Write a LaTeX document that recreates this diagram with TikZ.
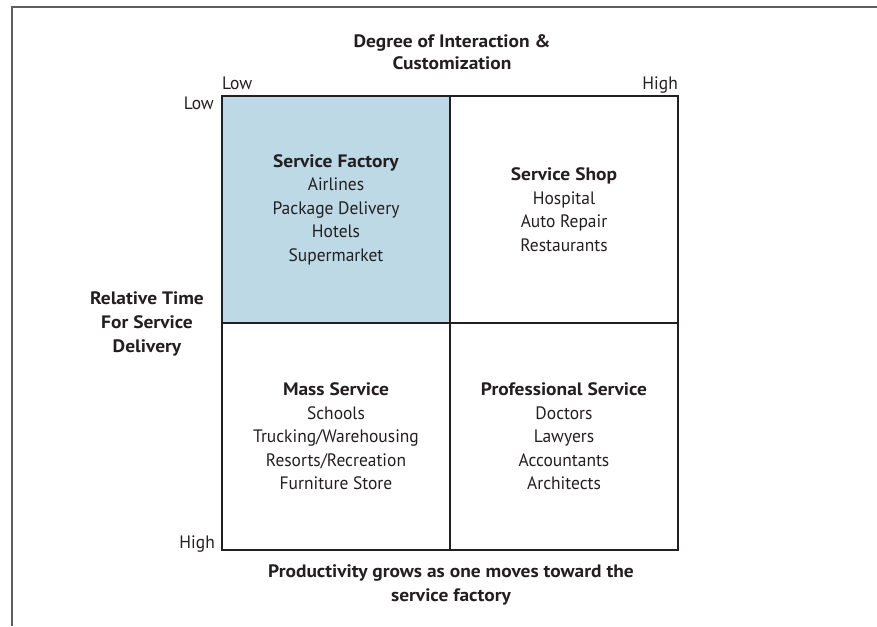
\documentclass[tikz,border=0pt]{standalone}
\usepackage{fontspec}
\setmainfont{PT Sans}[FakeStretch=0.97, BoldFeatures={FakeStretch=1.08}]

\definecolor{factoryblue}{RGB}{189,217,230}
\definecolor{inkgray}{RGB}{35,31,32}
\definecolor{framegray}{RGB}{95,95,95}

\begin{document}
\begin{tikzpicture}[
    x=1pt, y=-1pt,
    font=\fontsize{18}{23.5}\selectfont,
    text=inkgray,
    quadrant/.style={draw=inkgray, line width=1.5pt, minimum width=228pt,
        minimum height=227pt, align=center, inner sep=0pt},
    heading/.style={font=\fontsize{18}{22}\selectfont\bfseries, align=center},
    scalelabel/.style={inner sep=0pt},
]

\useasboundingbox (0,0) rectangle (877,626);

% Outer frame (top and left edges only)
\draw[framegray, line width=2pt] (12,626) -- (12,7) -- (877,7);

% Axis titles
\node[heading] (xtitle) at (452,52.5) {Degree of Interaction \&\\Customization};
\node[heading, font=\fontsize{18}{24}\selectfont\bfseries] (ytitle) at (147,324)
      {Relative Time\\For Service\\Delivery};

% Quadrants
\node[quadrant, fill=factoryblue] (factory) at (336,209.5)
      {\textbf{Service Factory}\\Airlines\\Package Delivery\\Hotels\\Supermarket};
\node[quadrant] (shop) at (564,209.5)
      {\textbf{Service Shop}\\Hospital\\Auto Repair\\Restaurants};
\node[quadrant] (mass) at (336,436.5)
      {\textbf{Mass Service}\\Schools\\Trucking/Warehousing\\Resorts/Recreation\\Furniture Store};
\node[quadrant] (professional) at (564,436.5)
      {\textbf{Professional Service}\\Doctors\\Lawyers\\Accountants\\Architects};

% Scale ends
\node[scalelabel, anchor=base west] (xlow) at (222,89.5) {Low};
\node[scalelabel, anchor=base east] (xhigh) at (678,89.5) {High};
\node[scalelabel, anchor=base east] (ylow) at (214,109) {Low};
\node[scalelabel, anchor=base east] (yhigh) at (215,548) {High};

% Note under the grid
\node[heading, font=\fontsize{18}{24}\selectfont\bfseries] (note) at (451,585)
      {Productivity grows as one moves toward the\\service factory};

\end{tikzpicture}
\end{document}
